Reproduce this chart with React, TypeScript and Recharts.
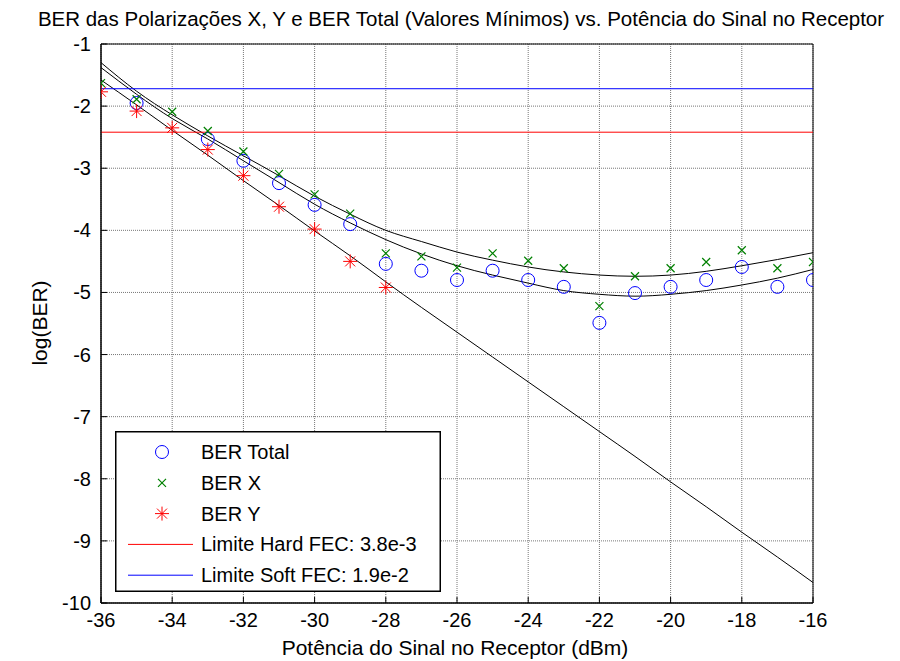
import React from 'react';
import { ComposedChart, XAxis, YAxis, CartesianGrid, Scatter, Line, ReferenceArea, Legend } from 'recharts';

const powers = [-36, -35, -34, -33, -32, -31, -30, -29, -28, -27, -26, -25, -24, -23, -22, -21, -20, -19, -18, -17, -16];
const berTotal: (number | null)[] = [null, -1.95, null, -2.53, -2.88, -3.24, -3.59, -3.9, -4.54, -4.65, -4.8, -4.65, -4.8, -4.91, -5.49, -5.01, -4.91, -4.8, -4.59, -4.91, -4.8];
const berX: (number | null)[] = [-1.63, -1.89, -2.09, -2.4, -2.73, -3.09, -3.42, -3.73, -4.37, -4.42, -4.6, -4.37, -4.49, -4.61, -5.22, -4.74, -4.61, -4.51, -4.32, -4.61, -4.51];
const berY: (number | null)[] = [-1.77, -2.08, -2.35, -2.7, -3.12, -3.62, -3.98, -4.5, -4.92, null, null, null, null, null, null, null, null, null, null, null, null];
const fitX = [-1.3, -1.76, -2.14, -2.48, -2.8, -3.12, -3.45, -3.74, -4.0, -4.18, -4.35, -4.48, -4.59, -4.67, -4.72, -4.74, -4.72, -4.66, -4.57, -4.47, -4.36];
const fitTotal = [-1.38, -1.81, -2.2, -2.53, -2.88, -3.23, -3.58, -3.88, -4.15, -4.38, -4.57, -4.72, -4.85, -4.97, -5.03, -5.06, -5.03, -4.97, -4.88, -4.77, -4.63];
const fitY = [-1.58, -1.98, -2.39, -2.79, -3.2, -3.6, -4.01, -4.41, -4.83, -5.24, -5.64, -6.04, -6.44, -6.84, -7.24, -7.64, -8.05, -8.45, -8.86, -9.26, -9.67];
const hardFec = -2.42;
const softFec = -1.72;
const xTicks = [-36, -34, -32, -30, -28, -26, -24, -22, -20, -18, -16];
const yTicks = [-10, -9, -8, -7, -6, -5, -4, -3, -2, -1];
const titleText = 'BER das Polarizações X, Y e BER Total (Valores Mínimos) vs. Potência do Sinal no Receptor';
const xLabelText = 'Potência do Sinal no Receptor (dBm)';
const yLabelText = 'log(BER)';
const legendLabels = ['BER Total', 'BER X', 'BER Y', 'Limite Hard FEC: 3.8e-3', 'Limite Soft FEC: 1.9e-2'];

const FONT = "'Liberation Sans', Arial, sans-serif";
const BLUE = '#0000FF';
const GREEN = '#008000';
const RED = '#FF0000';

const pts = (vals: (number | null)[]) =>
  powers.map((x, i) => ({ x, y: vals[i] })).filter((p) => p.y !== null && p.y !== undefined);

const hardData = [{ x: powers[0], y: hardFec }, { x: powers[powers.length - 1], y: hardFec }];
const softData = [{ x: powers[0], y: softFec }, { x: powers[powers.length - 1], y: softFec }];

const CircleMark = (cx: number, cy: number) => (
  <circle cx={cx} cy={cy} r={6.5} fill="none" stroke={BLUE} strokeWidth={1} />
);
const CrossMark = (cx: number, cy: number) => (
  <path d={`M${cx - 4},${cy - 4}L${cx + 4},${cy + 4}M${cx - 4},${cy + 4}L${cx + 4},${cy - 4}`} stroke={GREEN} strokeWidth={1.2} fill="none" />
);
const StarMark = (cx: number, cy: number) => (
  <path
    d={`M${cx - 7},${cy}L${cx + 7},${cy}M${cx},${cy - 7}L${cx},${cy + 7}M${cx - 5},${cy - 5}L${cx + 5},${cy + 5}M${cx - 5},${cy + 5}L${cx + 5},${cy - 5}`}
    stroke={RED}
    strokeWidth={1}
    fill="none"
  />
);

const XTick = (props: any) => {
  const { x, y, payload } = props;
  return (
    <g>
      <line x1={x} y1={y - 10} x2={x} y2={y - 16} stroke="#000" strokeWidth={1} />
      <text x={x} y={y + 14} textAnchor="middle" fontSize={20} fontFamily={FONT} fill="#000">
        {String(payload.value)}
      </text>
    </g>
  );
};
const YTick = (props: any) => {
  const { x, y, payload } = props;
  return (
    <g>
      <line x1={x + 10} y1={y} x2={x + 16} y2={y} stroke="#000" strokeWidth={1} />
      <text x={x} y={y + 7} textAnchor="end" fontSize={20} fontFamily={FONT} fill="#000">
        {String(payload.value)}
      </text>
    </g>
  );
};
const TopTick = (props: any) => {
  const { x, y } = props;
  return <line x1={x} y1={y} x2={x} y2={y + 6} stroke="#000" strokeWidth={1} />;
};
const RightTick = (props: any) => {
  const { x, y } = props;
  return <line x1={x} y1={y} x2={x - 6} y2={y} stroke="#000" strokeWidth={1} />;
};

const LEG_W = 326;
const LEG_H = 161;

const LegendBox = () => {
  const rowY = (i: number) => 21 + i * 30.8;
  return (
    <svg width={LEG_W} height={LEG_H} style={{ display: 'block', background: '#fff' }}>
      <rect x={0.75} y={0.75} width={LEG_W - 1.5} height={LEG_H - 1.5} fill="#fff" stroke="#000" strokeWidth={1.5} />
      {legendLabels.map((label, i) => {
        const cy = rowY(i);
        let mark: React.ReactNode = null;
        if (i === 0) mark = CircleMark(47, cy);
        else if (i === 1) mark = CrossMark(47, cy);
        else if (i === 2) mark = StarMark(47, cy);
        else mark = <line x1={13} y1={cy} x2={78} y2={cy} stroke={i === 3 ? RED : BLUE} strokeWidth={1} />;
        return (
          <g key={label}>
            {mark}
            <text x={86} y={cy + 7} fontSize={20} fontFamily={FONT} fill="#000">
              {label}
            </text>
          </g>
        );
      })}
    </svg>
  );
};

export default function App() {
  return (
    <div style={{ position: 'absolute', left: 0, top: 0, width: 900, height: 661, background: '#fff' }}>
      <ComposedChart width={900} height={661} margin={{ top: 44, right: 87, bottom: 0, left: 0 }}>
        <CartesianGrid stroke="#777" strokeDasharray="1 1" strokeWidth={1} horizontalValues={yTicks} verticalValues={xTicks} />
        <XAxis
          dataKey="x"
          type="number"
          domain={[-36, -16]}
          ticks={xTicks}
          allowDataOverflow
          height={58}
          tickSize={0}
          tickMargin={10}
          tickLine={false}
          axisLine={{ stroke: '#000', strokeWidth: 1 }}
          tick={<XTick />}
          interval={0}
        />
        <XAxis
          xAxisId="top"
          orientation="top"
          dataKey="x"
          type="number"
          domain={[-36, -16]}
          ticks={xTicks}
          allowDataOverflow
          height={0}
          tickSize={0}
          tickMargin={0}
          tickLine={false}
          axisLine={false}
          tick={<TopTick />}
          interval={0}
        />
        <YAxis
          type="number"
          domain={[-10, -1]}
          ticks={yTicks}
          allowDataOverflow
          width={101}
          tickSize={0}
          tickMargin={10}
          tickLine={false}
          axisLine={{ stroke: '#000', strokeWidth: 1 }}
          tick={<YTick />}
          interval={0}
        />
        <YAxis
          yAxisId="right"
          orientation="right"
          type="number"
          domain={[-10, -1]}
          ticks={yTicks}
          allowDataOverflow
          width={0}
          tickSize={0}
          tickMargin={0}
          tickLine={false}
          axisLine={false}
          tick={<RightTick />}
          interval={0}
        />
        <ReferenceArea x1={-36} x2={-16} y1={-10} y2={-1} fill="none" stroke="#000" strokeWidth={1} ifOverflow="visible" />
        <Scatter name={legendLabels[0]} data={pts(berTotal)} dataKey="y" isAnimationActive={false} shape={(p: any) => CircleMark(p.cx, p.cy)} />
        <Scatter name={legendLabels[1]} data={pts(berX)} dataKey="y" isAnimationActive={false} shape={(p: any) => CrossMark(p.cx, p.cy)} />
        <Scatter name={legendLabels[2]} data={pts(berY)} dataKey="y" isAnimationActive={false} shape={(p: any) => StarMark(p.cx, p.cy)} />
        <Line data={pts(fitX)} dataKey="y" type="natural" stroke="#000" strokeWidth={1} dot={false} activeDot={false} legendType="none" isAnimationActive={false} />
        <Line data={pts(fitTotal)} dataKey="y" type="natural" stroke="#000" strokeWidth={1} dot={false} activeDot={false} legendType="none" isAnimationActive={false} />
        <Line data={pts(fitY)} dataKey="y" type="natural" stroke="#000" strokeWidth={1} dot={false} activeDot={false} legendType="none" isAnimationActive={false} />
        <Line name={legendLabels[3]} data={hardData} dataKey="y" type="linear" stroke={RED} strokeWidth={1} dot={false} activeDot={false} isAnimationActive={false} />
        <Line name={legendLabels[4]} data={softData} dataKey="y" type="linear" stroke={BLUE} strokeWidth={1} dot={false} activeDot={false} isAnimationActive={false} />
        <Legend
          layout="vertical"
          align="center"
          verticalAlign="middle"
          content={() => <LegendBox />}
          wrapperStyle={{ position: 'absolute', left: 115, top: 431, width: LEG_W, height: LEG_H, margin: 0, padding: 0 }}
        />
      </ComposedChart>
      <svg width={900} height={661} style={{ position: 'absolute', left: 0, top: 0, pointerEvents: 'none' }}>
        <text x={461} y={26} fontSize={20.5} fontFamily={FONT} fill="#000" textAnchor="middle">
          {titleText}
        </text>
        <text x={455} y={655} fontSize={21} fontFamily={FONT} fill="#000" textAnchor="middle">
          {xLabelText}
        </text>
        <text x={47} y={323} fontSize={21} fontFamily={FONT} fill="#000" textAnchor="middle" transform="rotate(-90 47 323)">
          {yLabelText}
        </text>
      </svg>
    </div>
  );
}
